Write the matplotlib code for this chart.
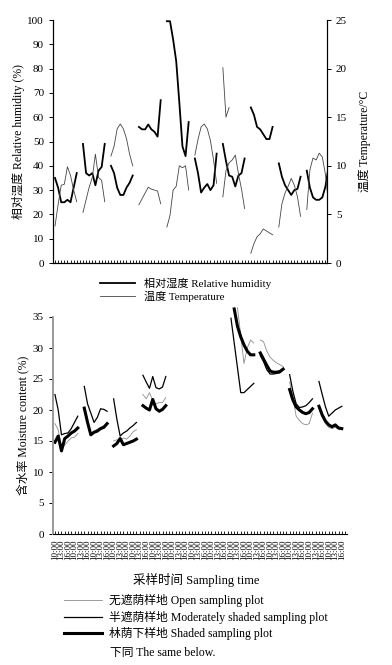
import numpy as np
import matplotlib
matplotlib.use("Agg")
import matplotlib.pyplot as plt

plt.rcParams['font.family'] = ['Liberation Serif', 'Noto Sans CJK SC', 'DejaVu Sans']
plt.rcParams['axes.unicode_minus'] = False

nan = np.nan
PER_DAY = 9      # 8 sampling points + 1 empty slot between days
N_DAYS = 10

# relative humidity (%) per day
rh = [
    [35, 31, 25, 25, 26, 25, 31, 37],
    [49, 37, 36, 37, 32, 38, 39.5, 49],
    [40, 37, 31, 28, 28, 31, 33, 36],
    [56, 55, 55, 57, 55, 54, 52, 67],
    [99.5, 99.5, 92, 83, 66, 48, 44, 58],
    [43, 37, 29, 31, 32.5, 30, 32, 45],
    [49, 42, 36, 35.5, 31.5, 36, 37, 43],
    [64, 61, 56, 55, 53, 51, 51, 56],
    [41, 35.5, 32, 30, 28, 30, 30.5, 35.5],
    [38, 31, 27, 26, 26, 27, 31.5, 39.5],
]
# temperature (°C) per day
temp = [
    [3.8, 6.0, 8.0, 8.1, 9.9, 9.0, 7.5, 6.3],
    [5.2, 6.5, 7.8, 8.8, 11.2, 8.8, 8.5, 6.3],
    [11, 12, 13.8, 14.3, 13.8, 12.8, 11.2, 10],
    [6.0, 6.6, 7.2, 7.8, 7.6, 7.5, 7.4, 6.1],
    [3.7, 4.9, 7.5, 7.9, 10, 9.8, 10, 7.5],
    [11.1, 12.7, 14, 14.3, 13.8, 12.6, 10.6, 8.2],
    [6.8, 9.5, 10.3, 10.6, 11.1, 9.2, 7.6, 5.6],
    [1.0, 2.0, 2.7, 3.0, 3.5, 3.3, 3.1, 2.9],
    [3.7, 6.1, 7.2, 7.9, 8.7, 8.0, 6.8, 4.8],
    [5.5, 9.6, 10.8, 10.6, 11.3, 10.9, 9.1, 6.1],
]
# short extra temperature piece on day 7
temp_extra = [None, None, None, None, None, None, [20.1, 15.0, 16.0], None, None, None]

# soil moisture content (%)
open_plot = [
    [17.8, 16.8, 14.0, 14.3, 15.0, 15.5, 15.6, 16.2],
    [20.5, 18.2, 16.3, 16.6, 16.9, 17.2, 17.5, 18.0],
    [15.0, 15.2, 15.0, 15.5, 15.3, 15.8, 16.5, 16.8],
    [22.5, 21.8, 22.8, 21.5, 21.0, 21.2, 21.2, 22.0],
    None,
    None,
    [nan, nan, 36.5, 32, 27.5, 30, 31.3, 30.8],
    [31.3, 31.0, 29.5, 28.5, 28.0, 27.6, 27.3, 27.0],
    [24.5, 22.0, 19.0, 18.3, 17.8, 17.6, 17.8, 19.5],
    [20.2, 18.8, 17.8, 17.2, 17.0, 17.2, 16.9, 16.8],
]
moderate = [
    [22.5, 20.0, 16.0, 16.2, 16.3, 17.0, 18.0, 19.0],
    [23.8, 21.0, 19.5, 18.0, 18.8, 20.2, 20.1, 19.8],
    [21.8, 18.5, 15.8, 16.3, 16.6, 17.1, 17.5, 18.0],
    [25.6, 24.5, 23.5, 25.4, 23.6, 23.4, 23.7, 25.4],
    None,
    None,
    [34.8, 30.8, 26.8, 22.8, 22.8, 23.3, 23.8, 24.3],
    [28.8, 27.8, 26.5, 25.8, 25.8, 25.9, 26.0, 26.5],
    [25.7, 23.0, 21.0, 20.4, 20.5, 20.7, 21.2, 21.8],
    [24.6, 22.5, 20.5, 19.0, 19.5, 20.0, 20.3, 20.6],
]
shaded = [
    [14.8, 15.8, 13.4, 15.4, 15.8, 16.3, 16.6, 17.1],
    [20.3, 18.0, 16.0, 16.4, 16.6, 17.0, 17.2, 17.8],
    [14.2, 14.6, 15.4, 14.4, 14.6, 14.8, 15.0, 15.3],
    [20.7, 20.3, 20.0, 21.7, 20.2, 19.8, 20.1, 20.7],
    None,
    None,
    [nan, 36.3, 33.5, 31.8, 30.5, 29.5, 28.9, 28.9],
    [29.2, 28.2, 27.2, 26.3, 26.1, 26.1, 26.2, 26.6],
    [23.3, 21.6, 20.5, 20.0, 19.6, 19.4, 19.6, 20.2],
    [20.6, 19.2, 18.2, 17.6, 17.3, 17.6, 17.1, 17.0],
]

time_labels = ["10:00", "13:00", "16:00"]


def expand(days):
    # put each day's points on the category axis, NaN in the gaps
    arr = np.full(N_DAYS * PER_DAY, nan)
    for d, vals in enumerate(days):
        if vals is None:
            continue
        arr[d * PER_DAY:d * PER_DAY + len(vals)] = vals
    return arr


x = np.arange(N_DAYS * PER_DAY)

fig = plt.figure(figsize=(3.92, 6.65), dpi=100)

# ---- top panel: humidity and temperature
ax1 = fig.add_axes([53 / 392, 1 - 263 / 665, (327 - 53) / 392, (263 - 20) / 665])
ax2 = ax1.twinx()

l_rh, = ax1.plot(x, expand(rh), color="black", lw=1.3)
l_t, = ax2.plot(x, expand(temp), color="#444444", lw=0.6)
ax2.plot(x, expand(temp_extra), color="#444444", lw=0.6)

ax1.set_xlim(-0.64, 87.5)
ax1.set_ylim(0, 100)
ax2.set_ylim(0, 25)
ax1.set_yticks(np.arange(0, 101, 10))
ax2.set_yticks(np.arange(0, 26, 5))
ax1.set_xticks(np.arange(0, 88))
ax1.set_xticklabels([])
ax1.tick_params(axis="x", direction="in", length=2.5, width=0.6)
ax1.tick_params(axis="y", length=3, width=0.7, labelsize=8)
ax2.tick_params(axis="y", length=3, width=0.7, labelsize=8)
ax1.spines["top"].set_visible(False)
ax2.spines["top"].set_visible(False)
for s in ["left", "bottom"]:
    ax1.spines[s].set_linewidth(0.8)
ax2.spines["right"].set_linewidth(0.8)
ax1.set_ylabel("相对湿度 Relative humidity (%)", fontsize=8.5, labelpad=2)
ax2.set_ylabel("温度 Temperature/°C", fontsize=8.5, labelpad=8)

fig.legend([l_rh, l_t], ["相对湿度 Relative humidity", "温度 Temperature"],
           loc="upper left", bbox_to_anchor=(92 / 392, 1 - 270 / 665),
           frameon=False, fontsize=8, handlelength=3.2, handletextpad=0.8,
           labelspacing=0.1, borderpad=0.2)

# ---- bottom panel: moisture content
ax3 = fig.add_axes([53 / 392, 1 - 534 / 665, (347 - 53) / 392, (534 - 317) / 665])
l_o, = ax3.plot(x, expand(open_plot), color="#8c8c8c", lw=0.6, clip_on=False)
l_m, = ax3.plot(x, expand(moderate), color="black", lw=0.9, clip_on=False)
l_s, = ax3.plot(x, expand(shaded), color="black", lw=2.2, clip_on=False)

ax3.set_xlim(-0.6, 89.6)
ax3.set_ylim(0, 35)
ax3.set_yticks(np.arange(0, 36, 5))
ax3.set_xticks(np.arange(0, 90), minor=True)
lab_pos = np.arange(0, 89, 2)
ax3.set_xticks(lab_pos)
ax3.set_xticklabels([time_labels[i % 3] for i in range(len(lab_pos))],
                    rotation=90, fontsize=6.5)
ax3.tick_params(axis="x", which="both", direction="in", length=2.5, width=0.6, pad=4)
ax3.tick_params(axis="y", length=3, width=0.7, labelsize=8)
ax3.spines["top"].set_visible(False)
ax3.spines["right"].set_visible(False)
ax3.spines["left"].set_color("#999999")
ax3.spines["left"].set_linewidth(1.4)
ax3.spines["bottom"].set_linewidth(0.8)
ax3.set_ylabel("含水率 Moisture content (%)", fontsize=8.5, labelpad=2)

fig.text(196 / 392, 1 - 580 / 665, "采样时间 Sampling time", fontsize=9,
         ha="center", va="center")

fig.legend([l_o, l_m, l_s],
           ["无遮荫样地 Open sampling plot",
            "半遮荫样地 Moderately shaded sampling plot",
            "林荫下样地 Shaded sampling plot"],
           loc="upper left", bbox_to_anchor=(56 / 392, 1 - 586 / 665),
           frameon=False, fontsize=8.5, handlelength=3.2, handletextpad=0.6,
           labelspacing=0.3, borderpad=0.2)
fig.text(110 / 392, 1 - 653 / 665, "下同 The same below.", fontsize=8.5,
         ha="left", va="center")

fig.savefig("out.png", dpi=100)
